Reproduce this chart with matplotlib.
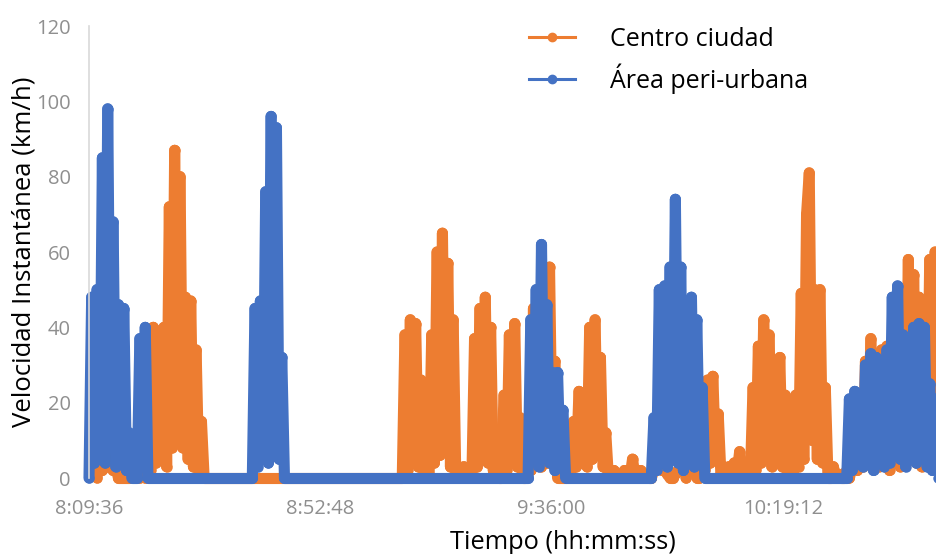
import matplotlib
matplotlib.use("Agg")
import matplotlib.pyplot as plt
from matplotlib.lines import Line2D
from matplotlib.collections import LineCollection
import numpy as np

plt.rcParams['font.family'] = ['Open Sans', 'DejaVu Sans']

# time axis in minutes after 8:09:36, one sample every 30 s inside each burst
step = 0.5
tick_pos = [0, 43.2, 86.4, 129.6]
tick_labels = ['8:09:36', '8:52:48', '9:36:00', '10:19:12']
y_ticks = [0, 20, 40, 60, 80, 100, 120]

# Centro ciudad (orange): burst start minute + speeds (km/h)
centro_starts = [1.5, 7.5, 58.5, 89.0]
centro_speeds = [
    [0, 7, 2, 7, 3, 4, 2, 3, 0],
    [0, 2, 0, 2, 0, 3, 0, 38, 2, 40, 4, 39, 6, 40, 3, 72, 8, 87, 10, 80,
     8, 48, 5, 47, 3, 34, 2, 15, 0],
    [0, 38, 2, 42, 4, 41, 3, 26, 2, 10,
     0, 38, 4, 60, 6, 65, 8, 57, 3, 42,
     0, 1, 0, 3, 0, 1, 0, 37, 3, 45,
     5, 48, 4, 40, 2, 8, 0, 0, 22, 2,
     38, 4, 41, 3, 16, 0, 0, 10, 2, 45,
     5, 47, 3, 52, 4, 56, 6, 31, 0],
    [0, 10, 2, 15, 3, 23, 4, 20, 3, 40,
     5, 42, 6, 32, 3, 12, 0, 1, 2, 1,
     0, 1, 2, 1, 0, 5, 0, 1, 2, 1,
     1, 0, 0, 2, 4, 10, 2, 9, 1, 0,
     0, 1, 2, 3, 5, 0, 4, 2, 6, 0,
     0, 12, 2, 26, 4, 27, 5, 17, 1, 3,
     1, 3, 2, 4, 1, 7, 2, 3, 1, 0,
     24, 2, 35, 4, 42, 5, 38, 3, 30, 4,
     32, 3, 22, 1, 5, 0, 22, 3, 49, 5,
     70, 81, 10, 50, 5, 50, 4, 24, 0, 0,
     3, 0, 1, 0, 0,
     2, 0, 3, 14, 2, 20, 3, 31, 4, 37,
     5, 30, 3, 34, 6, 35, 2, 31, 4, 28,
     3, 50, 6, 58, 5, 54, 4, 48, 3, 45,
     6, 58, 8, 60, 5, 57],
]

# Área peri-urbana (blue)
peri_starts = [0.0, 9.0, 30.5, 82.0, 105.0, 141.5]
peri_speeds = [
    [0, 48, 4, 50, 5, 85, 4, 98, 8, 68, 3, 46, 6, 45, 2, 12, 0],
    [0, 37, 3, 40, 0],
    [0, 45, 3, 47, 6, 76, 4, 96, 8, 93, 5, 32, 0],
    [0, 42, 5, 50, 3, 62, 6, 46, 4, 28, 2, 28, 3, 18, 0],
    [0, 16, 2, 50, 5, 51, 3, 56, 8, 74, 4, 56, 2, 40, 6, 48, 3, 42, 5, 24, 0],
    [0, 21, 2, 23, 4, 22, 3, 30, 5, 33, 2, 32, 6, 31, 3, 34, 4, 48, 8, 51,
     5, 38, 3, 32, 6, 40, 4, 41, 7, 40, 3, 25, 2, 21, 0, 15],
]

orange = '#ED7D31'
blue = '#4472C4'


def build(starts, speeds):
    t, v = [], []
    for s, vals in zip(starts, speeds):
        t.extend(s + step * np.arange(len(vals)))
        v.extend(vals)
    return np.array(t), np.array(v)


fig = plt.figure(figsize=(9.36, 5.54), dpi=100)
ax = fig.add_axes([89 / 936, 1 - 478 / 554, 847 / 936, 452 / 554])

for starts, speeds, col in [(centro_starts, centro_speeds, orange),
                            (peri_starts, peri_speeds, blue)]:
    t, v = build(starts, speeds)
    pts = np.column_stack([t, v])
    # one path per segment, so the overlapping strokes fill solidly
    segs = np.stack([pts[:-1], pts[1:]], axis=1)
    lc = LineCollection(segs, colors=col, linewidths=8, capstyle='round',
                        joinstyle='round', clip_on=False)
    ax.add_collection(lc)
    ax.plot(t, v, ls='none', marker='o', ms=7.5, mew=0, color=col, clip_on=False)

ax.set_xlim(0, 847 / 5.355)
ax.set_ylim(0, 120)
ax.set_xticks(tick_pos)
ax.set_xticklabels(tick_labels)
ax.set_yticks(y_ticks)
ax.tick_params(length=0, labelsize=14.5, labelcolor='#8f8f8f')
ax.tick_params(axis='x', pad=15)
ax.tick_params(axis='y', pad=13)
for side in ['top', 'right', 'bottom']:
    ax.spines[side].set_visible(False)
ax.spines['left'].set_color('#d9d9d9')
ax.spines['left'].set_linewidth(1.2)

fig.text(24 / 936, 1 - 252 / 554, 'Velocidad Instantánea (km/h)', rotation=90,
         ha='center', va='center', fontsize=18.5)
fig.text(563 / 936, 1 - 549 / 554, 'Tiempo (hh:mm:ss)', ha='center',
         va='baseline', fontsize=18.3)

handles = [Line2D([], [], color=orange, lw=2.2, marker='o', ms=6),
           Line2D([], [], color=blue, lw=2.2, marker='o', ms=6)]
ax.legend(handles, ['Centro ciudad', 'Área peri-urbana'], loc='upper left',
          bbox_to_anchor=(529 / 936, 1 - 27 / 554), bbox_transform=fig.transFigure,
          frameon=False, fontsize=18, borderpad=0, borderaxespad=0,
          handlelength=1.85, handletextpad=1.4, labelspacing=0.45)

fig.savefig('out.png', dpi=100)
